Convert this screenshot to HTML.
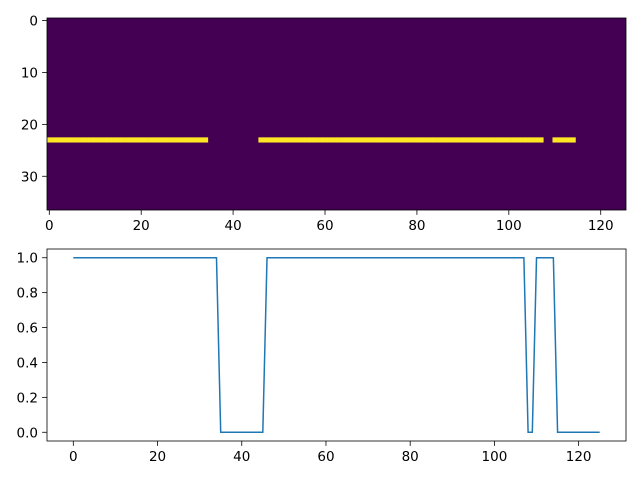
<!DOCTYPE html>
<html><head><meta charset="utf-8"><style>
body{margin:0;background:#fff;}
svg{display:block;font-family:"DejaVu Sans","Liberation Sans",sans-serif;font-size:13.5px;}
</style></head><body>
<svg id="fig" width="640" height="480"></svg>
<script>
const signal = [1,1,1,1,1,1,1,1,1,1,1,1,1,1,1,1,1,1,1,1,1,1,1,1,1,1,1,1,1,1,1,1,1,1,1,
0,0,0,0,0,0,0,0,0,0,0,
1,1,1,1,1,1,1,1,1,1,1,1,1,1,1,1,1,1,1,1,1,1,1,1,1,1,1,1,1,1,1,1,1,1,1,1,1,1,1,1,1,1,1,1,1,1,1,1,1,1,1,1,1,1,1,1,1,1,1,1,1,1,
0,0,
1,1,1,1,1,
0,0,0,0,0,0,0,0,0,0,0];
const imageRows = 37;
const activeRow = 23;
const topXTicks = [0,20,40,60,80,100,120];
const topYTicks = [0,10,20,30];
const botXTicks = [0,20,40,60,80,100,120];
const botYTicks = [0,0.2,0.4,0.6,0.8,1.0];

const NS="http://www.w3.org/2000/svg";
const svg=document.getElementById('fig');
function mk(t,a,p){const e=document.createElementNS(NS,t);for(const k in a)e.setAttribute(k,a[k]);(p||svg).appendChild(e);return e;}

// top axes
const T={l:47,r:626,t:18,b:210};
const n=signal.length;
const tx=v=>T.l+(v+0.5)/n*(T.r-T.l);
const ty=v=>T.t+(v+0.5)/imageRows*(T.b-T.t);
const g1=mk('g',{});


const bg=mk('rect',{x:T.l,y:T.t,width:T.r-T.l,height:T.b-T.t,fill:'#440154'},g1);


signal.forEach((v,i)=>{
  if(v>0){
    const c=mk('rect',{x:tx(i-0.5),y:ty(activeRow-0.5),width:tx(i+0.5)-tx(i-0.5)+0.3,height:ty(activeRow+0.5)-ty(activeRow-0.5),fill:'#fde725'},g1);
    
    
  }
});
mk('rect',{x:T.l,y:T.t,width:T.r-T.l,height:T.b-T.t,fill:'none',stroke:'#000','stroke-width':0.8},g1);
topXTicks.forEach(v=>{const x=tx(v);mk('line',{x1:x,x2:x,y1:T.b,y2:T.b+4.9,stroke:'#000','stroke-width':0.8},g1);
  const t=mk('text',{x:x,y:T.b+20,'text-anchor':'middle'},g1);t.textContent=v;
  
  });
topYTicks.forEach(v=>{const y=ty(v);mk('line',{x1:T.l-4.9,x2:T.l,y1:y,y2:y,stroke:'#000','stroke-width':0.8},g1);
  const t=mk('text',{x:T.l-9,y:y+5,'text-anchor':'end'},g1);t.textContent=v;
  
  });

// bottom axes
const B={l:47,r:626,t:249,b:441};
const x0=-0.05*(n-1), x1=(n-1)*1.05;
const bx=v=>B.l+(v-x0)/(x1-x0)*(B.r-B.l);
const by=v=>B.b-(v+0.05)/1.1*(B.b-B.t);
const g2=mk('g',{});


const line=mk('polyline',{points:signal.map((v,i)=>bx(i)+','+by(v)).join(' '),fill:'none',stroke:'#1f77b4','stroke-width':1.5},g2);


mk('rect',{x:B.l,y:B.t,width:B.r-B.l,height:B.b-B.t,fill:'none',stroke:'#000','stroke-width':0.8},g2);
botXTicks.forEach(v=>{const x=bx(v);mk('line',{x1:x,x2:x,y1:B.b,y2:B.b+4.9,stroke:'#000','stroke-width':0.8},g2);
  const t=mk('text',{x:x,y:B.b+20,'text-anchor':'middle'},g2);t.textContent=v;
  
  });
botYTicks.forEach(v=>{const y=by(v);mk('line',{x1:B.l-4.9,x2:B.l,y1:y,y2:y,stroke:'#000','stroke-width':0.8},g2);
  const t=mk('text',{x:B.l-9,y:y+5,'text-anchor':'end'},g2);t.textContent=v.toFixed(1);
  
  });
</script>
</body></html>
